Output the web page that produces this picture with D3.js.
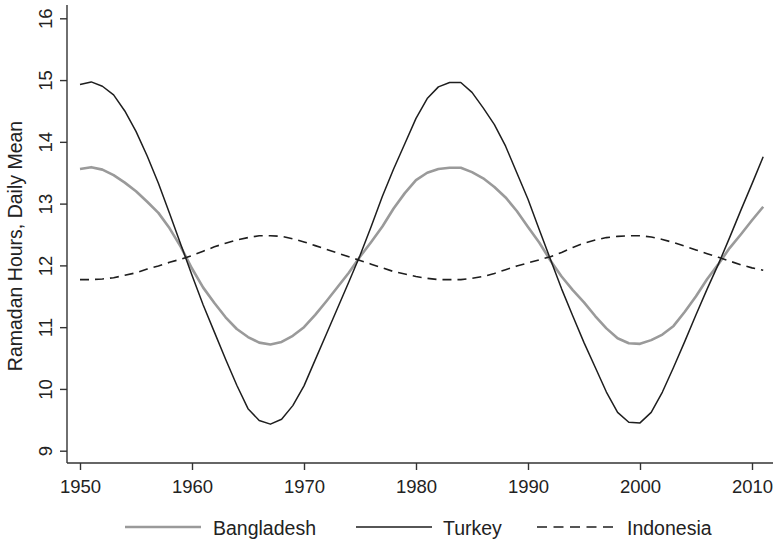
<!DOCTYPE html>
<html>
<head>
<meta charset="utf-8">
<style>
  html, body {
    margin: 0;
    padding: 0;
    background: #fff;
  }
  svg text {
    font-family: "Liberation Sans", Helvetica, Arial, sans-serif;
    fill: #222;
  }
  .axis line, .axis path {
    stroke: #333;
    stroke-width: 1.4;
  }
  .series {
    fill: none;
    stroke-linejoin: round;
  }
</style>
<script src="https://cdn.jsdelivr.net/npm/d3@7/dist/d3.min.js"></script>
</head>
<body>
<div id="vis"></div>
<script>
  // yearly values, 1950..2011
  var years = d3.range(1950, 2012);

  var bangladesh = [
    13.56, 13.59, 13.55, 13.46, 13.34, 13.20, 13.03, 12.85, 12.60, 12.30,
    11.95, 11.64, 11.39, 11.16, 10.97, 10.84, 10.75, 10.72, 10.76, 10.86,
    11.00, 11.20, 11.42, 11.65, 11.88, 12.14, 12.38, 12.63, 12.92, 13.17,
    13.38, 13.50, 13.56, 13.58, 13.58, 13.51, 13.41, 13.27, 13.10, 12.88,
    12.62, 12.37, 12.08, 11.82, 11.60, 11.40, 11.18, 10.98, 10.82, 10.74,
    10.73, 10.79, 10.88, 11.02, 11.25, 11.50, 11.78, 12.02, 12.28, 12.50,
    12.73, 12.95
  ];

  var turkey = [
    14.93, 14.97, 14.90, 14.76, 14.50, 14.17, 13.77, 13.33, 12.84, 12.34,
    11.84, 11.36, 10.92, 10.48, 10.06, 9.68, 9.49, 9.43, 9.51, 9.73,
    10.05, 10.47, 10.89, 11.31, 11.73, 12.16, 12.63, 13.12, 13.56, 13.97,
    14.38, 14.70, 14.89, 14.96, 14.96, 14.80, 14.55, 14.28, 13.93, 13.50,
    13.07, 12.58, 12.10, 11.62, 11.18, 10.75, 10.35, 9.95, 9.62, 9.46,
    9.45, 9.62, 9.95, 10.35, 10.77, 11.20, 11.62, 12.02, 12.45, 12.89,
    13.32, 13.76
  ];

  var indonesia = [
    11.77, 11.77, 11.78, 11.80, 11.84, 11.88, 11.94, 11.99, 12.05, 12.10,
    12.16, 12.23, 12.30, 12.36, 12.41, 12.45, 12.48, 12.48, 12.47, 12.43,
    12.38, 12.32, 12.26, 12.20, 12.14, 12.08, 12.02, 11.96, 11.90, 11.86,
    11.82, 11.79, 11.77, 11.77, 11.77, 11.79, 11.82, 11.87, 11.93, 11.99,
    12.04, 12.09, 12.14, 12.21, 12.29, 12.36, 12.41, 12.45, 12.47, 12.48,
    12.48, 12.46, 12.42, 12.37, 12.31, 12.25, 12.19, 12.13, 12.07, 12.01,
    11.96, 11.92
  ];

  var xTicks = [1950, 1960, 1970, 1980, 1990, 2000, 2010];
  var yTicks = [9, 10, 11, 12, 13, 14, 15, 16];

  var seriesNames = ['Bangladesh', 'Turkey', 'Indonesia'];

  var width = 773, height = 541;
  var left = 67, bottom = 463;

  var x = d3.scaleLinear().domain([1950, 2010]).range([80, 752]);
  var y = d3.scaleLinear().domain([9, 16]).range([450.7, 18.3]);

  var svg = d3.select('#vis').append('svg')
    .attr('width', width)
    .attr('height', height);

  var styles = {
    Bangladesh: {stroke: '#9a9a9a', width: 2.6, dash: null},
    Turkey: {stroke: '#1e1e1e', width: 1.5, dash: null},
    Indonesia: {stroke: '#1e1e1e', width: 1.6, dash: '9,6'}
  };

  var series = [
    {name: 'Bangladesh', values: bangladesh},
    {name: 'Turkey', values: turkey},
    {name: 'Indonesia', values: indonesia}
  ];

  // axes
  var yAxis = svg.append('g')
    .attr('class', 'axis')
    .attr('transform', 'translate(' + left + ',0)')
    .call(d3.axisLeft(y).tickValues(yTicks).tickFormat(d3.format('d')).tickSize(7).tickSizeOuter(0));
  yAxis.select('.domain').remove();
  yAxis.selectAll('text')
    .attr('transform', 'rotate(-90)')
    .attr('x', 0)
    .attr('y', -15)
    .attr('dy', 0)
    .attr('text-anchor', 'middle')
    .style('font-size', '18.5px');

  var xAxis = svg.append('g')
    .attr('class', 'axis')
    .attr('transform', 'translate(0,' + bottom + ')')
    .call(d3.axisBottom(x).tickValues(xTicks).tickFormat(d3.format('d')).tickSize(7).tickSizeOuter(0));
  xAxis.select('.domain').remove();
  xAxis.selectAll('text')
    .attr('y', 0)
    .attr('dy', 29.5)
    .style('font-size', '18.5px');

  svg.append('line').attr('class', 'axisline')
    .attr('x1', left).attr('x2', left)
    .attr('y1', 5).attr('y2', bottom)
    .style('stroke', '#333').style('stroke-width', 1.4);
  svg.append('line').attr('class', 'axisline')
    .attr('x1', left).attr('x2', width)
    .attr('y1', bottom).attr('y2', bottom)
    .style('stroke', '#333').style('stroke-width', 1.4);

  svg.append('text')
    .attr('transform', 'translate(22,246) rotate(-90)')
    .attr('text-anchor', 'middle')
    .style('font-size', '19.5px')
    .text('Ramadan Hours, Daily Mean');

  // lines
  var line = d3.line()
    .x(function(d, i) { return x(years[i]); })
    .y(function(d) { return y(d); });

  svg.selectAll('.series')
    .data(series)
    .enter().append('path')
    .attr('class', 'series')
    .attr('d', function(d) { return line(d.values); })
    .style('stroke', function(d) { return styles[d.name].stroke; })
    .style('stroke-width', function(d) { return styles[d.name].width; })
    .style('stroke-dasharray', function(d) { return styles[d.name].dash; });

  // legend
  var legendX = [125, 356, 537];
  var legend = svg.selectAll('.legend')
    .data(seriesNames)
    .enter().append('g')
    .attr('class', 'legend')
    .attr('transform', function(d, i) { return 'translate(' + legendX[i] + ',527)'; });

  legend.append('line')
    .attr('x1', 0).attr('x2', 76)
    .attr('y1', 0).attr('y2', 0)
    .style('stroke', function(d) { return styles[d].stroke; })
    .style('stroke-width', function(d) { return styles[d].width; })
    .style('stroke-dasharray', function(d) { return styles[d].dash ? '10,6.5' : null; });

  legend.append('text')
    .attr('x', function(d, i) { return [88, 87, 90][i]; })
    .attr('y', 8)
    .style('font-size', '19.5px')
    .text(function(d) { return d; });
</script>
</body>
</html>
